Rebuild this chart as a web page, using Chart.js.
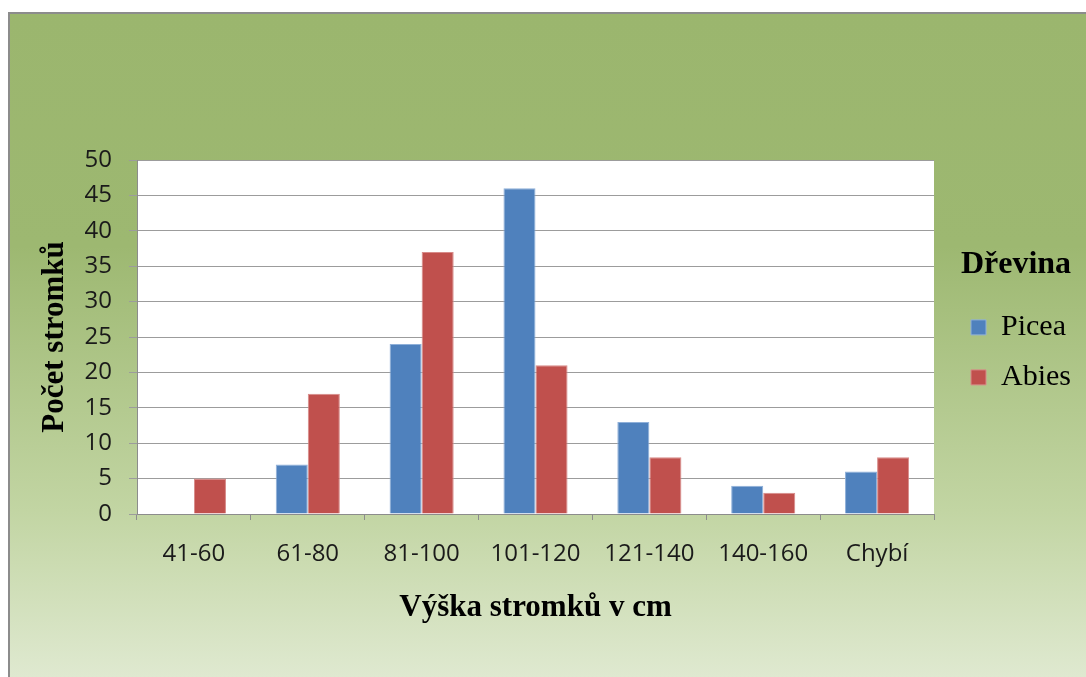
<!DOCTYPE html>
<html>
<head>
<meta charset="utf-8">
<script src="https://cdn.jsdelivr.net/npm/chart.js@4.4.1/dist/chart.umd.min.js"></script>
<style>
  html, body { margin: 0; padding: 0; background: #fff; }
  body { width: 1086px; height: 677px; overflow: hidden; position: relative; }
  #frame {
    position: absolute; left: 8px; top: 12px; width: 1076px; height: 663px;
    border-left: 2px solid #8c8c8c; border-top: 2px solid #8c8c8c;
    background: linear-gradient(to bottom, #9bb66e 0%, #9db871 35%, #c2d5a3 75%, #dfe9d0 100%);
  }
  canvas { display: block; }
</style>
</head>
<body>
<div id="frame"><canvas id="chart" width="1076" height="663"></canvas></div>
<script>
const categories = ['41-60', '61-80', '81-100', '101-120', '121-140', '140-160', 'Chybí']
const picea = [null, 7, 24, 46, 13, 4, 6]
const abies = [5, 17, 37, 21, 8, 3, 8]
const yTicks = [0, 5, 10, 15, 20, 25, 30, 35, 40, 45, 50]

const ctx = document.getElementById('chart')

// white plot area
const plotBackground = {
    id: 'plotBackground',
    beforeDraw(chart) {
        const { ctx, chartArea } = chart
        ctx.save()
        ctx.fillStyle = '#ffffff'
        ctx.fillRect(chartArea.left, chartArea.top, chartArea.width, chartArea.height)
        ctx.restore()
    }
}

const serif = "'Liberation Serif', 'Times New Roman', serif"
const sans = "'Open Sans', sans-serif"

const chart = new Chart(ctx, {
    type: 'bar',
    data: {
        labels: categories,
        datasets: [{
            label: 'Picea',
            data: picea,
            backgroundColor: '#4f81bd',
            borderColor: '#8fb0d9',
            borderWidth: 1
        }, {
            label: 'Abies',
            data: abies,
            backgroundColor: '#c0504d',
            borderColor: '#d88b89',
            borderWidth: 1
        }]
    },
    options: {
        responsive: false,
        animation: false,
        layout: { padding: { left: 26, top: 146, right: 5, bottom: 50 } },
        datasets: { bar: { categoryPercentage: 0.563, barPercentage: 1 } },
        scales: {
            x: {
                grid: { offset: true, drawOnChartArea: false, tickLength: 6, color: '#8c8c8c' },
                border: { color: '#8c8c8c' },
                ticks: { color: '#1a1a1a', padding: 20, font: { family: sans, size: 24 } },
                title: {
                    display: true, text: 'Výška stromků v cm', color: '#000',
                    font: { family: serif, size: 31, weight: 'bold' },
                    padding: { top: 1, bottom: 0 }
                }
            },
            y: {
                min: 0, max: 50,
                afterBuildTicks: (scale) => { scale.ticks = yTicks.map(v => ({ value: v })) },
                afterFit: (scale) => { scale.width = 101 },
                grid: { color: '#9c9c9c', tickLength: 8 },
                border: { color: '#8c8c8c' },
                ticks: { color: '#1a1a1a', padding: 17, font: { family: sans, size: 24 } },
                title: {
                    display: true, text: 'Počet stromků', color: '#000',
                    font: { family: serif, size: 31, weight: 'bold' },
                    padding: { top: 0, bottom: 0 }
                }
            },
            // spacer between plot and legend
            gap: {
                type: 'linear', position: 'right', display: true,
                grid: { display: false, drawTicks: false }, border: { display: false },
                ticks: { display: false },
                afterFit: (scale) => { scale.width = 17 }
            }
        },
        plugins: {
            legend: {
                position: 'right',
                align: 'start',
                fullSize: false,
                title: {
                    display: true, text: 'Dřevina', color: '#000',
                    font: { family: serif, size: 32, weight: 'bold' },
                    padding: { top: 89, bottom: 5 }
                },
                labels: {
                    color: '#000', boxWidth: 15, boxHeight: 15, padding: 20,
                    font: { family: serif, size: 30 }
                }
            },
            tooltip: { enabled: false }
        }
    },
    plugins: [plotBackground]
})
</script>
</body>
</html>
